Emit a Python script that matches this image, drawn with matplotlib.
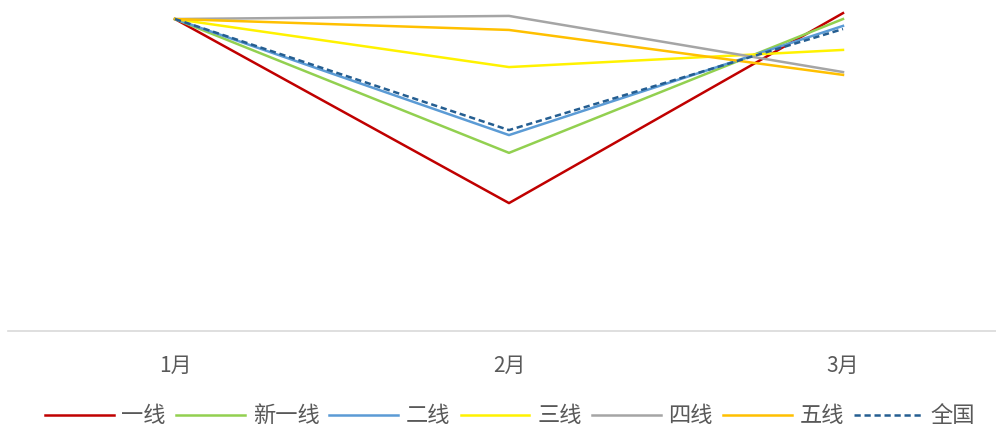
import numpy as np
import matplotlib.pyplot as plt

plt.rcParams['font.family'] = ['Noto Sans CJK SC', 'DejaVu Sans']

months = ['1月', '2月', '3月']
series = ['一线', '新一线', '二线', '三线', '四线', '五线', '全国']
tier1 = [100, 41.0, 101.9]
new_tier1 = [100, 57.1, 100.0]
tier2 = [100, 62.8, 97.8]
tier3 = [100, 84.6, 90.1]
tier4 = [100, 101.0, 83.0]
tier5 = [100, 96.5, 82.1]
national = [100, 64.4, 96.8]

colors = ['#C00000', '#92D050', '#5B9BD5', '#FFF200', '#A5A5A5', '#FFC000', '#255E91']
values = [tier1, new_tier1, tier2, tier3, tier4, tier5, national]

fig = plt.figure(figsize=(9.96, 4.29), dpi=100)
ax = fig.add_axes([8 / 996, 98 / 429, 988 / 996, 331 / 429])
x = np.arange(len(months))
for name, vals, c in zip(series, values, colors):
    if name == '全国':
        ax.plot(x, vals, color=c, lw=1.8, ls='--', dashes=(2.5, 1.5), label=name)
    else:
        ax.plot(x, vals, color=c, lw=1.8, label=name)

ax.set_xlim(-0.5, -0.5 + 988 / 334)
ax.set_ylim(0, 106.1)
ax.set_xticks(x)
ax.set_xticklabels(months, fontsize=15, color='#595959')
ax.tick_params(axis='x', length=0, pad=17)
ax.set_yticks([])
for s in ['top', 'left', 'right']:
    ax.spines[s].set_visible(False)
ax.spines['bottom'].set_color('#D9D9D9')
ax.spines['bottom'].set_linewidth(1.2)

fig.legend(loc='center', bbox_to_anchor=(510 / 996, 1 - 416 / 429), ncol=7,
           frameon=False, fontsize=16, handlelength=3.1, handletextpad=0.35,
           columnspacing=0.45, labelcolor='#595959')

fig.savefig('out.png', dpi=100)
